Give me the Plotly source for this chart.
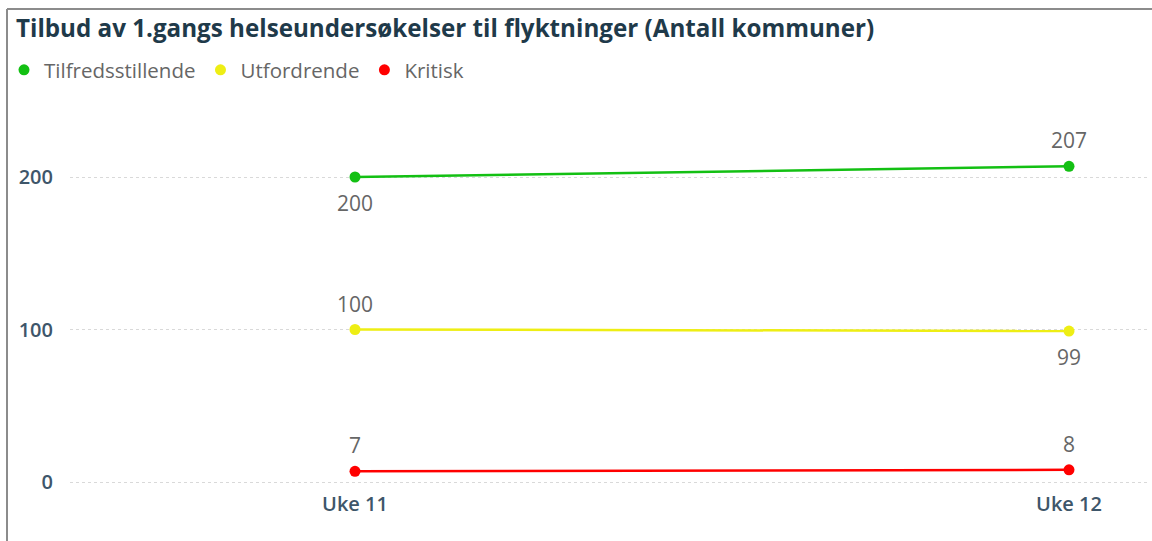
import plotly.graph_objects as go

categories = ["Uke 11", "Uke 12"]
series_names = ["Tilfredsstillende", "Utfordrende", "Kritisk"]
tilfredsstillende = [200, 207]
utfordrende = [100, 99]
kritisk = [7, 8]
label_side = {"Tilfredsstillende": [-1, 1], "Utfordrende": [1, -1], "Kritisk": [1, 1]}
colors = {"Tilfredsstillende": "#13C013", "Utfordrende": "#EEEE14", "Kritisk": "#FF0000"}
y_ticks = [0, 100, 200]
title_text = "Tilbud av 1.gangs helseundersøkelser til flyktninger (Antall kommuner)"

W, H = 1152, 541
L, R, T, B = 70, 2, 100, 51
PW, PH = W - L - R, H - T - B

fig = go.Figure()
annotations = []
for name, vals in zip(series_names, [tilfredsstillende, utfordrende, kritisk]):
    fig.add_trace(go.Scatter(
        x=categories, y=vals, name=name, mode="lines+markers",
        line=dict(color=colors[name], width=2.5),
        marker=dict(color=colors[name], size=11),
        legendgroup=name, showlegend=False,
    ))
    # legend entry showing only the dot
    fig.add_trace(go.Scatter(
        x=[None], y=[None], name=name, mode="markers",
        marker=dict(color=colors[name], size=11),
        legendgroup=name, showlegend=True,
    ))
    for c, v, s in zip(categories, vals, label_side[name]):
        annotations.append(dict(
            x=c, y=v, text=str(v), showarrow=False, xref="x", yref="y",
            yshift=26 * s, font=dict(family="Open Sans", size=21, color="#666666"),
        ))

annotations.append(dict(
    text=title_text, xref="paper", yref="paper", showarrow=False,
    x=(14 - L) / PW, y=1 + (T - 27) / PH,
    xanchor="left", yanchor="middle",
    font=dict(family="Open Sans", size=24.2, color="#1F3A4A", weight=700),
))

shapes = [
    dict(type="line", xref="paper", yref="paper",
         x0=(7 - L) / PW, x1=1.01, y0=1 + (T - 9) / PH, y1=1 + (T - 9) / PH,
         line=dict(color="#8C8C8C", width=2)),
    dict(type="line", xref="paper", yref="paper",
         x0=(7 - L) / PW, x1=(7 - L) / PW, y0=1 + (T - 9) / PH, y1=-0.2,
         line=dict(color="#8C8C8C", width=2)),
]

fig.update_layout(
    width=W, height=H,
    margin=dict(l=L, r=R, t=T, b=B),
    paper_bgcolor="white", plot_bgcolor="white",
    annotations=annotations, shapes=shapes,
    showlegend=True,
    legend=dict(orientation="h", x=(4 - L) / PW, y=1 + (T - 70) / PH,
                xanchor="left", yanchor="middle", itemwidth=30,
                font=dict(family="Open Sans", size=20.5, color="#666666"),
                bgcolor="rgba(0,0,0,0)", tracegroupgap=0),
    xaxis=dict(type="category", range=[-(355 - L) / 714, 1 + (W - R - 1069) / 714],
               showgrid=False, zeroline=False, showline=False, ticks="",
               tickfont=dict(family="Open Sans", size=20, color="#3E566A", weight=600)),
    yaxis=dict(range=[-(490 - 482) / 1.525, (482 - T) / 1.525], tickvals=y_ticks,
               showgrid=True, gridcolor="#D9D9D9", griddash="dot", gridwidth=1,
               zeroline=False, showline=False, ticks="", ticklabelstandoff=16,
               tickfont=dict(family="Open Sans", size=20, color="#3E566A", weight=600)),
)

fig.write_html("out.html", config={"displayModeBar": False},
               post_script="document.body.style.margin='0';")
